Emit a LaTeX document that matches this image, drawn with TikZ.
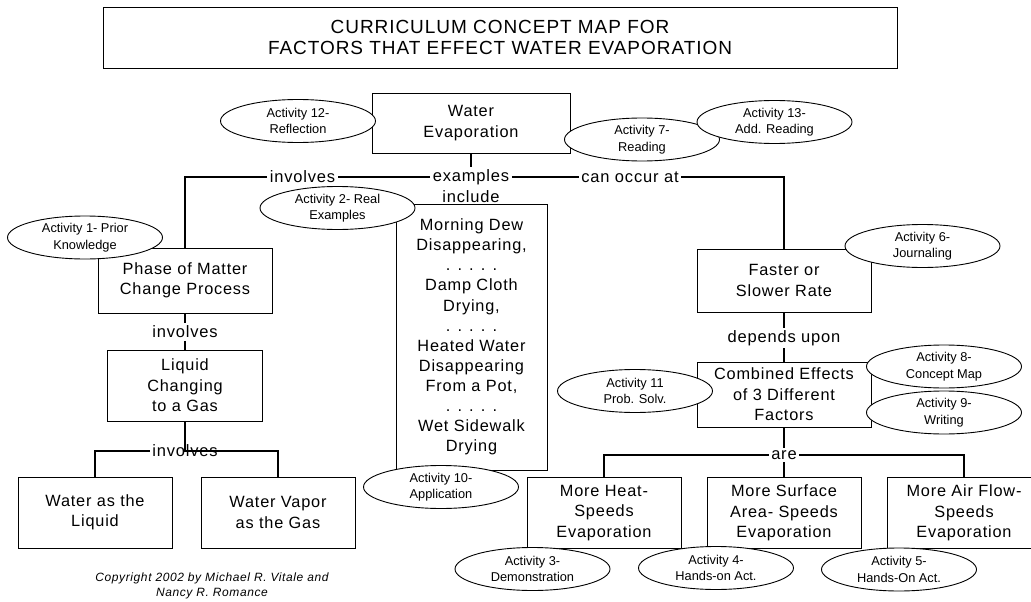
\documentclass[tikz,border=0pt]{standalone}
\usepackage{fontspec}
\setmainfont{Liberation Sans}
\newfontfamily\boxfont{Liberation Sans}[LetterSpace=5]
\usetikzlibrary{shapes.geometric}

\begin{document}
\begin{tikzpicture}[x=1pt,y=-1pt,
	khung/.style={draw,line width=0.9pt,inner sep=0pt,align=center,font=\boxfont\fontsize{16.3}{20.5}\selectfont},
	nhan/.style={inner sep=2.5pt,font=\boxfont\fontsize{16.5}{20}\selectfont},
	elip/.style={ellipse,draw,fill=white,line width=0.9pt,minimum width=155pt,minimum height=43pt,inner sep=0pt,align=center,font=\fontsize{12.8}{16.5}\selectfont},
	noi/.style={line width=1.6pt}]
	\useasboundingbox (0,0) rectangle (1031,602);
	%Khung tieu de
	\node[khung,minimum width=794pt,minimum height=61pt,font=\boxfont\fontsize{19}{21.5}\selectfont] (tieude) at (500,37.5) {CURRICULUM CONCEPT MAP FOR\\FACTORS THAT EFFECT WATER EVAPORATION};
	%Khung goc
	\node[khung,minimum width=198pt,minimum height=60pt] (evap) at (471,123) {Water\\Evaporation};
	%Nhanh trai
	\node[khung,minimum width=174pt,minimum height=65pt] (phase) at (185,280.5) {Phase of Matter\\Change Process};
	\node[khung,minimum width=155pt,minimum height=71pt] (liquid) at (185,385.5) {Liquid\\Changing\\to a Gas};
	\node[khung,minimum width=154pt,minimum height=71pt] (wliq) at (95,512.5) {Water as the\\Liquid};
	\node[khung,minimum width=154pt,minimum height=71pt] (vapor) at (278,512.5) {Water Vapor\\as the Gas};
	%Khung vi du
	\node[khung,minimum width=151pt,minimum height=266pt,font=\boxfont\fontsize{16.3}{20.1}\selectfont] (vidu) at (471.5,337) {Morning Dew\\Disappearing,\\. . . . .\\Damp Cloth\\Drying,\\. . . . .\\Heated Water\\Disappearing\\From a Pot,\\. . . . .\\Wet Sidewalk\\Drying};
	%Nhanh phai
	\node[khung,minimum width=174pt,minimum height=63pt] (faster) at (784,280.5) {Faster or\\Slower Rate};
	\node[khung,minimum width=174pt,minimum height=65pt] (combined) at (784,394.5) {Combined Effects\\of 3 Different\\Factors};
	\node[khung,minimum width=154pt,minimum height=71pt] (heat) at (604,513) {More Heat-\\Speeds\\Evaporation};
	\node[khung,minimum width=154pt,minimum height=71pt] (surface) at (784,513) {More Surface\\Area- Speeds\\Evaporation};
	\node[khung,minimum width=154pt,minimum height=71pt] (air) at (964,513) {More Air Flow-\\Speeds\\Evaporation};
	%Nhan lien ket
	\node[nhan] (inv1) at (302.5,177) {involves};
	\node[nhan] (ex) at (471,177) {examples};
	\node[nhan] (incl) at (471,197) {include};
	\node[nhan] (can) at (630,177) {can occur at};
	\node[nhan] (inv2) at (185,332) {involves};
	\node[nhan] (inv3) at (185,451) {involves};
	\coordinate (j3) at (185,451);
	\node[nhan] (dep) at (784,338) {depends upon};
	\node[nhan] (are) at (784,455) {are};
	%Duong noi
	\draw[noi] (evap) -- (ex);
	\draw[noi] (ex) -- (inv1) -| (phase);
	\draw[noi] (ex) -- (can) -| (faster);
	\draw[noi] (phase) -- (inv2) -- (liquid);
	\draw[noi] (liquid) -- (j3) -| (vapor);
	\draw[noi] (inv3) -| (wliq);
	\draw[noi] (faster) -- (dep) -- (combined);
	\draw[noi] (combined) -- (are) -- (surface);
	\draw[noi] (are) -| (heat);
	\draw[noi] (are) -| (air);
	%Elip hoat dong
	\node[elip] (hd12) at (298,121) {Activity 12-\\Reflection};
	\node[elip] (hd7) at (642,139.5) {Activity 7-\\Reading};
	\node[elip] (hd13) at (774.5,122) {Activity 13-\\Add. Reading};
	\node[elip] (hd2) at (337.5,208) {Activity 2- Real\\Examples};
	\node[elip] (hd1) at (85,237.5) {Activity 1- Prior\\Knowledge};
	\node[elip] (hd6) at (922.5,246) {Activity 6-\\Journaling};
	\node[elip] (hd11) at (635,391) {Activity 11\\Prob. Solv.};
	\node[elip] (hd8) at (944,366.5) {Activity 8-\\Concept Map};
	\node[elip] (hd9) at (944,412.5) {Activity 9-\\Writing};
	\node[elip] (hd10) at (441,487) {Activity 10-\\Application};
	\node[elip] (hd3) at (532.5,569) {Activity 3-\\Demonstration};
	\node[elip] (hd4) at (716,568) {Activity 4-\\Hands-on Act.};
	\node[elip] (hd5) at (899,569.5) {Activity 5-\\Hands-On Act.};
	%Ban quyen
	\node[align=center,font=\boxfont\itshape\fontsize{12}{15}\selectfont] (banquyen) at (212,585.5) {Copyright 2002 by Michael R. Vitale and\\Nancy R. Romance};
\end{tikzpicture}
\end{document}
